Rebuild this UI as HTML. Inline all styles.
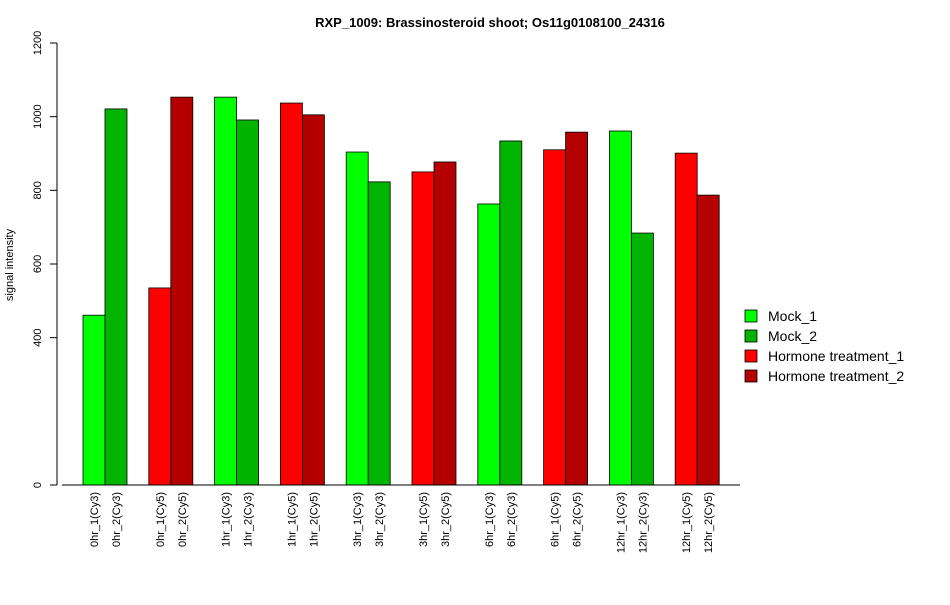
<!DOCTYPE html>
<html><head><meta charset="utf-8"><style>body{margin:0;background:#fff}svg{font-family:"Liberation Sans",Arial,sans-serif}</style></head>
<body>
<svg id="chart" width="950" height="600" xmlns="http://www.w3.org/2000/svg">
<text x="490" y="27" text-anchor="middle" font-size="13" font-weight="bold">RXP_1009: Brassinosteroid shoot; Os11g0108100_24316</text>
<text transform="translate(13,265) rotate(-90)" text-anchor="middle" font-size="11">signal intensity</text>
<g id="yaxis"></g>
<g id="bars"></g>
<g id="xlabels"></g>
<line x1="62" y1="485" x2="740" y2="485" stroke="#000"/>
<g id="legend"></g>
</svg>
<script>
const categories=["0hr_1(Cy3)","0hr_2(Cy3)","0hr_1(Cy5)","0hr_2(Cy5)","1hr_1(Cy3)","1hr_2(Cy3)","1hr_1(Cy5)","1hr_2(Cy5)","3hr_1(Cy3)","3hr_2(Cy3)","3hr_1(Cy5)","3hr_2(Cy5)","6hr_1(Cy3)","6hr_2(Cy3)","6hr_1(Cy5)","6hr_2(Cy5)","12hr_1(Cy3)","12hr_2(Cy3)","12hr_1(Cy5)","12hr_2(Cy5)"];
const values=[461,1021,535,1053,1053,991,1037,1005,904,823,850,877,763,934,910,958,961,684,901,787];
const seriesIdx=[0,1,2,3,0,1,2,3,0,1,2,3,0,1,2,3,0,1,2,3];
const seriesNames=["Mock_1","Mock_2","Hormone treatment_1","Hormone treatment_2"];
const seriesColors=["#00ff00","#00b400","#ff0000","#b40000"];
const yTicks=[0,400,600,800,1000,1200];
const NS="http://www.w3.org/2000/svg";
const y0=485,yTop=43,yMax=1200;
function y(v){return y0-(y0-yTop)*v/yMax;}
function xBar(i){const g=Math.floor(i/2);return 83+g*65.8+(i%2)*22;}
const bw=22;
function mk(tag,attrs,parent){const e=document.createElementNS(NS,tag);for(const k in attrs)e.setAttribute(k,attrs[k]);parent.appendChild(e);return e;}
const ya=document.getElementById('yaxis');
const l=mk('line',{x1:57,x2:57,y1:y(0),y2:y(yMax),stroke:'#000'},ya);


yTicks.forEach(t=>{
 const tk=mk('line',{x1:50,x2:57,y1:y(t),y2:y(t),stroke:'#000'},ya);
 
 
 const tx=mk('text',{transform:`translate(41,${y(t)}) rotate(-90)`,'text-anchor':'middle','font-size':11},ya);
 tx.textContent=t;
 
 
});
const bars=document.getElementById('bars'),xl=document.getElementById('xlabels');
values.forEach((v,i)=>{
 const r=mk('rect',{x:xBar(i),y:y(v),width:bw,height:y(0)-y(v),fill:seriesColors[seriesIdx[i]],stroke:'#000','stroke-width':0.8},bars);
 
 
 const t=mk('text',{transform:`translate(${xBar(i)+bw/2+4},492) rotate(-90)`,'text-anchor':'end','font-size':11},xl);
 t.textContent=categories[i];
 
 
});
const lg=document.getElementById('legend');
const ly=[316,336,356,376];
seriesNames.forEach((n,i)=>{
 const r=mk('rect',{x:745,y:ly[i]-6,width:12,height:12,fill:seriesColors[i],stroke:'#000','stroke-width':0.8},lg);
 
 
 const t=mk('text',{x:768,y:ly[i]+5,'font-size':14},lg);
 t.textContent=n;
 
 
});
</script>
</body></html>
